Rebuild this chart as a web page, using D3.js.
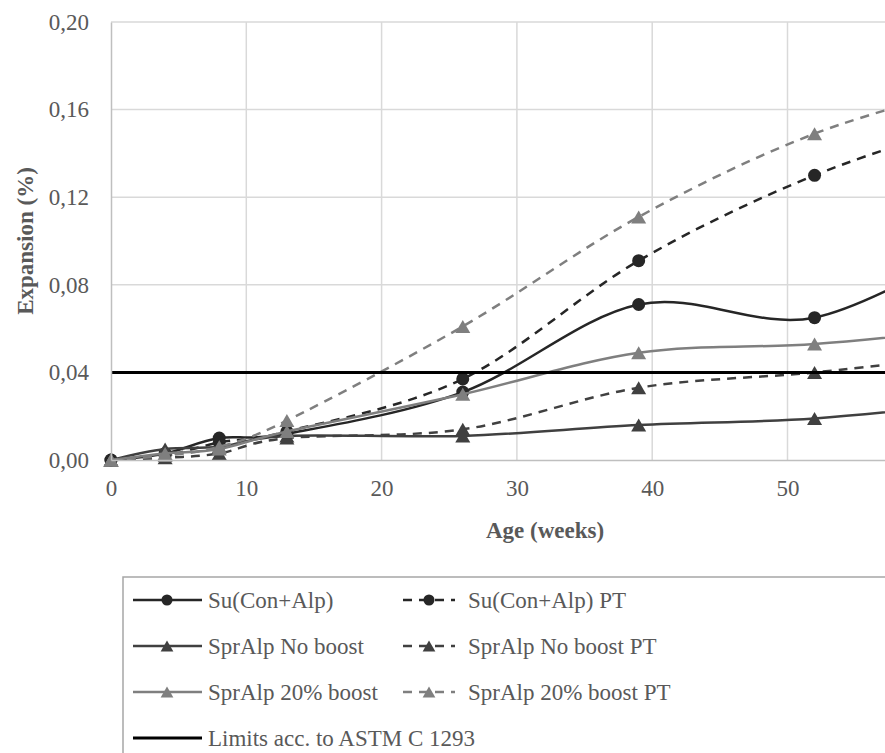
<!DOCTYPE html>
<html>
<head>
<meta charset="utf-8">
<script src="https://cdn.jsdelivr.net/npm/d3@7/dist/d3.min.js"></script>
<style>
  html, body { margin: 0; padding: 0; background: #fff; }
  svg { display: block; }
  svg text { font-family: "Liberation Serif", "DejaVu Serif", "Tinos", "Times New Roman", "Noto Serif", "FreeSerif", serif; }
</style>
</head>
<body>
<svg id="chart" width="885" height="753"></svg>
<script>
// ---- data ----
const weeks = [0, 4, 8, 13, 26, 39, 52, 65];
const suConAlp      = [0, 0.003, 0.010, 0.012, 0.031, 0.071, 0.065, 0.103];
const suConAlpPT    = [0, 0.002, 0.008, 0.013, 0.037, 0.091, 0.130, 0.157];
const sprNoBoost    = [0, 0.005, 0.006, 0.011, 0.011, 0.016, 0.019, 0.027];
const sprNoBoostPT  = [0, 0.001, 0.003, 0.010, 0.014, 0.033, 0.040, 0.049];
const spr20Boost    = [0, 0.003, 0.005, 0.013, 0.030, 0.049, 0.053, 0.061];
const spr20BoostPT  = [0, 0.002, 0.006, 0.018, 0.061, 0.111, 0.149, 0.173];
const limitWeeks    = [0, 65];
const limitValues   = [0.04, 0.04];
const seriesNames = ["Su(Con+Alp)", "Su(Con+Alp) PT", "SprAlp No boost", "SprAlp No boost PT",
                     "SprAlp 20% boost", "SprAlp 20% boost PT", "Limits acc. to ASTM C 1293"];
const xTicks = [0, 10, 20, 30, 40, 50];
const xGrid = [10, 20, 30, 40, 50, 60];
const yTicks = [0, 0.04, 0.08, 0.12, 0.16, 0.20];
const xTitle = "Age (weeks)";
const yTitle = "Expansion (%)";

// ---- styles ----
const C_DARK = "#262626", C_MID = "#404040", C_LIGHT = "#7f7f7f";
const series = [
  { name: seriesNames[0], values: suConAlp,     color: C_DARK,  dash: null,  marker: "circle" },
  { name: seriesNames[1], values: suConAlpPT,   color: C_DARK,  dash: "9,7", marker: "circle" },
  { name: seriesNames[2], values: sprNoBoost,   color: C_MID,   dash: null,  marker: "triangle" },
  { name: seriesNames[3], values: sprNoBoostPT, color: C_MID,   dash: "9,7", marker: "triangle" },
  { name: seriesNames[4], values: spr20Boost,   color: C_LIGHT, dash: null,  marker: "triangle" },
  { name: seriesNames[5], values: spr20BoostPT, color: C_LIGHT, dash: "9,7", marker: "triangle" }
];
const FONT = '"Liberation Serif", "DejaVu Serif", "Tinos", "Times New Roman", "Noto Serif", serif';

const svg = d3.select("#chart");
svg.append("rect").attr("width", 885).attr("height", 753).attr("fill", "#fff");

const pLeft = 111, pTop = 22, pBottom = 460;
const pxPerWeek = 13.53;
const x = d3.scaleLinear().domain([0, 65]).range([pLeft, pLeft + pxPerWeek * 65]);
const y = d3.scaleLinear().domain([0, 0.20]).range([pBottom, pTop]);

const plot = svg.append("g");

// gridlines
plot.append("g").selectAll("line").data(yTicks.filter(d => d > 0)).join("line")
  .attr("x1", pLeft).attr("x2", 885).attr("y1", d => y(d)).attr("y2", d => y(d))
  .attr("stroke", "#d9d9d9").attr("stroke-width", 1.5);
plot.append("g").selectAll("line").data(xGrid).join("line")
  .attr("x1", d => x(d)).attr("x2", d => x(d)).attr("y1", pTop).attr("y2", pBottom)
  .attr("stroke", "#d9d9d9").attr("stroke-width", 1.5);

// axes
const fmt = d => d3.format(".2f")(d).replace(".", ",");
const yAxis = d3.axisLeft(y).tickValues(yTicks).tickFormat(fmt).tickSize(0).tickPadding(22);
const yg = svg.append("g").attr("transform", `translate(${pLeft},0)`).call(yAxis);
yg.select(".domain").attr("stroke", "#bfbfbf").attr("stroke-width", 1.5);
yg.selectAll("text").attr("fill", "#595959").attr("font-size", 23).style("font-family", FONT);

const xAxis = d3.axisBottom(x).tickValues(xTicks).tickFormat(d3.format("d")).tickSize(0).tickPadding(20);
const xg = svg.append("g").attr("transform", `translate(0,${pBottom})`).call(xAxis);
xg.select(".domain").attr("stroke", "#bfbfbf").attr("stroke-width", 1.5);
xg.selectAll("text").attr("fill", "#595959").attr("font-size", 23).style("font-family", FONT);

// titles
svg.append("text").attr("x", 545).attr("y", 530).attr("text-anchor", "middle")
  .attr("dominant-baseline", "central").attr("font-weight", "bold").attr("font-size", 23)
  .attr("fill", "#595959").style("font-family", FONT).text(xTitle);
svg.append("text").attr("transform", `translate(25,${(pTop + pBottom) / 2}) rotate(-90)`)
  .attr("text-anchor", "middle").attr("dominant-baseline", "central")
  .attr("font-weight", "bold").attr("font-size", 23).attr("fill", "#595959")
  .style("font-family", FONT).text(yTitle);

// markers
function triPath(w, h) {
  return `M0,${-h / 2}L${w / 2},${h / 2}L${-w / 2},${h / 2}Z`;
}
function drawMarker(g, type, color, cx, cy, scale = 1) {
  if (type === "circle") {
    g.append("circle").attr("cx", cx).attr("cy", cy).attr("r", 6.5 * scale).attr("fill", color);
  } else {
    g.append("path").attr("d", triPath(15 * scale, 13 * scale))
      .attr("transform", `translate(${cx},${cy})`).attr("fill", color);
  }
}

// series
const line = d3.line().x(d => x(d[0])).y(d => y(d[1])).curve(d3.curveCardinal.tension(0));
const dataG = plot.append("g");
series.forEach(s => {
  const pts = weeks.map((w, i) => [w, s.values[i]]);
  const g = dataG.append("g");
  g.append("path").attr("d", line(pts)).attr("fill", "none").attr("stroke", s.color)
    .attr("stroke-width", 2.5).attr("stroke-dasharray", s.dash);
  pts.forEach(p => drawMarker(g, s.marker, s.color, x(p[0]), y(p[1])));
});
// limit line
dataG.append("path")
  .attr("d", d3.line().x(d => x(d[0])).y(d => y(d[1]))(limitWeeks.map((w, i) => [w, limitValues[i]])))
  .attr("stroke", "#000").attr("stroke-width", 3).attr("fill", "none");

// legend
const lg = svg.append("g");
lg.append("rect").attr("x", 123).attr("y", 577).attr("width", 900).attr("height", 300)
  .attr("fill", "none").attr("stroke", "#a6a6a6").attr("stroke-width", 1.5);
const legendItems = series.map(s => s).concat([{ name: seriesNames[6], color: "#000", dash: null, marker: null, limit: true }]);
legendItems.forEach((s, i) => {
  const col = i === 6 ? 0 : i % 2;
  const row = i === 6 ? 3 : Math.floor(i / 2);
  const ly = 600 + row * 46;
  const lx = col === 0 ? 133 : 403;
  const g = lg.append("g");
  if (s.dash) {
    g.append("line").attr("x1", lx).attr("x2", lx + 52).attr("y1", ly).attr("y2", ly)
      .attr("stroke", s.color).attr("stroke-width", 2.5).attr("stroke-dasharray", "9,7");
  } else {
    g.append("line").attr("x1", lx).attr("x2", lx + 69).attr("y1", ly).attr("y2", ly)
      .attr("stroke", s.color).attr("stroke-width", s.limit ? 3 : 2.5);
  }
  if (s.marker) drawMarker(g, s.marker, s.color, col === 0 ? lx + 34 : lx + 26, ly, 0.85);
  g.append("text").attr("x", col === 0 ? 208 : 468).attr("y", ly).attr("dominant-baseline", "central")
    .attr("font-size", 23).attr("fill", "#595959").style("font-family", FONT).text(s.name);
});
</script>
</body>
</html>
